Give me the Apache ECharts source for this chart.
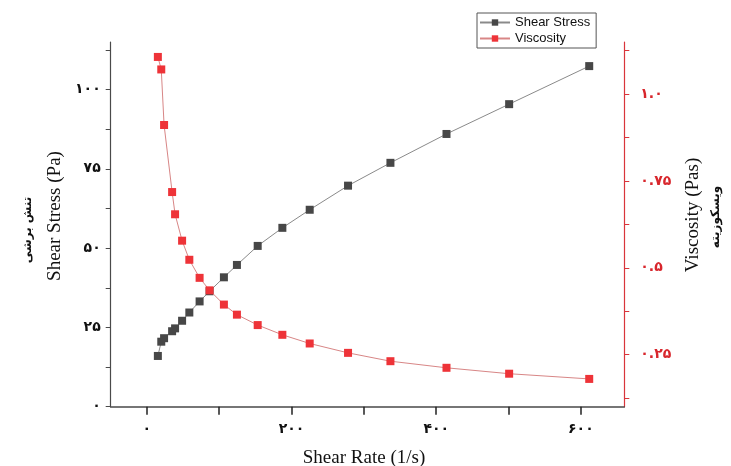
<!DOCTYPE html>
<html>
<head>
<meta charset="utf-8">
<script src="https://cdn.jsdelivr.net/npm/echarts@6/dist/echarts.min.js"></script>
<style>
html,body{margin:0;padding:0;background:#fff;}
#chart{width:731px;height:466px;}
</style>
</head>
<body>
<div id="chart"></div>
<script>
// ---- data ----
const shearRate = [15.2, 19.9, 23.8, 34.9, 39, 48.7, 58.7, 72.9, 86.7, 106.5, 124.5, 153.2, 187.3, 225.1, 278.1, 336.7, 414.2, 500.8, 611.5];
const shearStress = [16.0, 20.5, 21.6, 23.8, 24.7, 27.1, 29.7, 33.2, 36.4, 40.8, 44.7, 50.7, 56.4, 62.1, 69.7, 76.9, 86.0, 95.4, 107.4];
const viscosity = [1.107, 1.071, 0.911, 0.718, 0.654, 0.578, 0.523, 0.471, 0.435, 0.394, 0.365, 0.335, 0.307, 0.282, 0.255, 0.231, 0.212, 0.195, 0.180];

const xTickValues = [0, 100, 200, 300, 400, 500, 600];
const xLabelValues = [0, 200, 400, 600];
const xLabelTexts = ['۰', '۲۰۰', '۴۰۰', '۶۰۰'];

const yLeftTickValues = [0, 12.5, 25, 37.5, 50, 62.5, 75, 87.5, 100, 112.5];
const yLeftLabelValues = [0, 25, 50, 75, 100];
const yLeftLabelTexts = ['۰', '۲۵', '۵۰', '۷۵', '۱۰۰'];

const yRightTickValues = [0.125, 0.25, 0.375, 0.5, 0.625, 0.75, 0.875, 1.0, 1.125];
const yRightLabelValues = [0.25, 0.5, 0.75, 1.0];
const yRightLabelTexts = ['۰.۲۵', '۰.۵', '۰.۷۵', '۱.۰'];

const seriesNames = ['Shear Stress', 'Viscosity'];
const xTitle = 'Shear Rate (1/s)';
const yLeftTitle = 'Shear Stress (Pa)';
const yLeftTitleFa = 'تنش برشی';
const yRightTitle = 'Viscosity (Pas)';
const yRightTitleFa = 'ویسکوزیته';

function mapLabel(values, texts) {
  return function (v) {
    for (let i = 0; i < values.length; i++) {
      if (Math.abs(values[i] - v) < 1e-6) return texts[i];
    }
    return '';
  };
}

const chart = echarts.init(document.getElementById('chart'), null, {renderer: 'canvas'});
const darkAxis = '#4a4a4a';
const redAxis = '#d9353b';
const numFont = '"DejaVu Sans", serif';

chart.setOption({
  animation: false,
  backgroundColor: '#ffffff',
  grid: {left: 110.7, right: 106.7, top: 42, bottom: 59.3, containLabel: false},
  legend: {
    orient: 'vertical',
    left: 477,
    top: 13,
    itemWidth: 30,
    itemHeight: 8,
    itemGap: 3,
    padding: [3, 6, 3, 2],
    borderColor: '#555',
    borderWidth: 1,
    textStyle: {fontFamily: '"Liberation Sans", Arial, sans-serif', fontSize: 13, color: '#111', lineHeight: 13},
    data: seriesNames
  },
  xAxis: {
    type: 'value',
    min: -50,
    max: 660,
    splitLine: {show: false},
    axisLine: {show: true, onZero: false, lineStyle: {color: darkAxis, width: 1.5}},
    axisTick: {show: true, inside: false, length: 8, customValues: xTickValues, lineStyle: {color: '#222', width: 1.5}},
    axisLabel: {
      customValues: xLabelValues,
      formatter: mapLabel(xLabelValues, xLabelTexts),
      margin: 16,
      fontFamily: numFont,
      fontSize: 14,
      fontWeight: 'bold',
      color: '#111'
    }
  },
  yAxis: [
    {
      type: 'value',
      position: 'left',
      min: 0,
      max: 115,
      splitLine: {show: false},
      axisLine: {show: true, onZero: false, lineStyle: {color: darkAxis, width: 1.2}},
      axisTick: {show: true, inside: false, length: 5, customValues: yLeftTickValues, lineStyle: {color: darkAxis}},
      axisLabel: {
        customValues: yLeftLabelValues,
        formatter: mapLabel(yLeftLabelValues, yLeftLabelTexts),
        margin: 10,
        fontFamily: numFont,
        fontSize: 14,
        fontWeight: 'bold',
        color: '#111'
      }
    },
    {
      type: 'value',
      position: 'right',
      min: 0.1,
      max: 1.15,
      splitLine: {show: false},
      axisLine: {show: true, onZero: false, lineStyle: {color: redAxis, width: 1.2}},
      axisTick: {show: true, inside: false, length: 5, customValues: yRightTickValues, lineStyle: {color: redAxis}},
      axisLabel: {
        customValues: yRightLabelValues,
        formatter: mapLabel(yRightLabelValues, yRightLabelTexts),
        margin: 16,
        fontFamily: numFont,
        fontSize: 14,
        fontWeight: 'bold',
        color: '#d8262c'
      }
    }
  ],
  series: [
    {
      name: seriesNames[0],
      type: 'line',
      yAxisIndex: 0,
      data: shearRate.map((x, i) => [x, shearStress[i]]),
      symbol: 'rect',
      symbolSize: 8,
      itemStyle: {color: '#474747'},
      lineStyle: {color: '#8a8a8a', width: 1},
      z: 2
    },
    {
      name: seriesNames[1],
      type: 'line',
      yAxisIndex: 1,
      data: shearRate.map((x, i) => [x, viscosity[i]]),
      symbol: 'rect',
      symbolSize: 8,
      itemStyle: {color: '#ee3338'},
      lineStyle: {color: '#d88686', width: 1},
      z: 3
    }
  ],
  graphic: [
    {type: 'text', x: 55, y: 216, rotation: Math.PI / 2,
     style: {text: yLeftTitle, align: 'center', verticalAlign: 'middle', fontFamily: '"Liberation Serif", serif', fontSize: 19, fill: '#111'}},
    {type: 'text', x: 28, y: 230, rotation: Math.PI / 2,
     style: {text: yLeftTitleFa, align: 'center', verticalAlign: 'middle', fontFamily: '"DejaVu Sans", sans-serif', fontSize: 12, fontWeight: 'bold', fill: '#111'}},
    {type: 'text', x: 693, y: 215, rotation: Math.PI / 2,
     style: {text: yRightTitle, align: 'center', verticalAlign: 'middle', fontFamily: '"Liberation Serif", serif', fontSize: 19, fill: '#111'}},
    {type: 'text', x: 716, y: 217, rotation: Math.PI / 2,
     style: {text: yRightTitleFa, align: 'center', verticalAlign: 'middle', fontFamily: '"DejaVu Sans", sans-serif', fontSize: 12, fontWeight: 'bold', fill: '#111'}},
    {type: 'text', x: 364, y: 458,
     style: {text: xTitle, align: 'center', verticalAlign: 'middle', fontFamily: '"Liberation Serif", serif', fontSize: 19, fill: '#111'}}
  ]
});
</script>
</body>
</html>
